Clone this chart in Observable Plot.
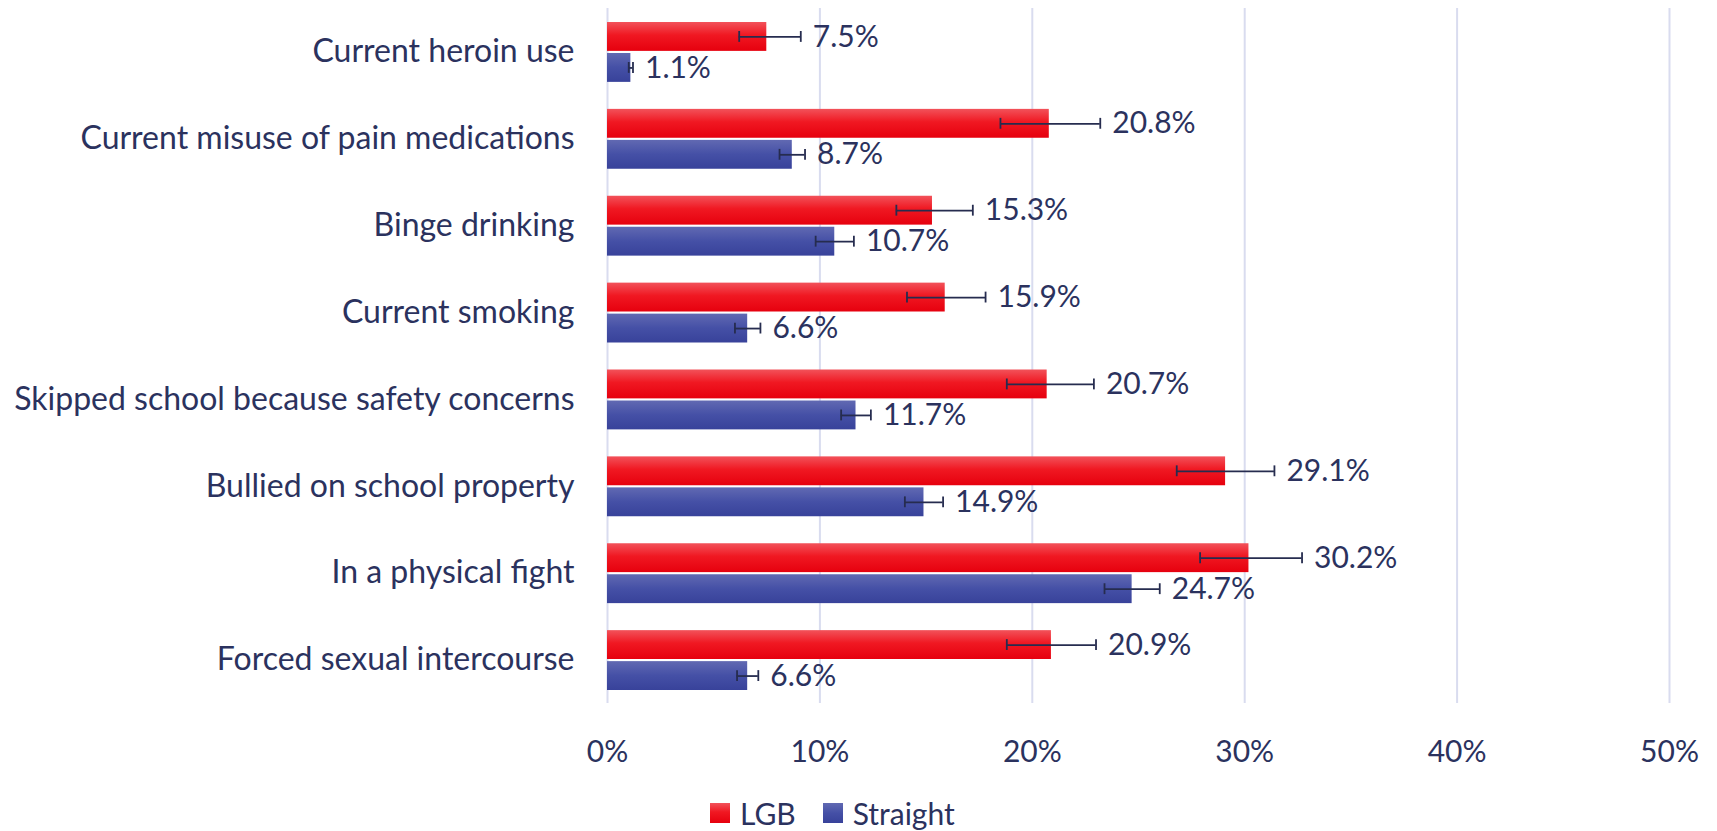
<!DOCTYPE html>
<html>
<head>
<meta charset="utf-8">
<script src="https://cdn.jsdelivr.net/npm/d3@7"></script>
<script src="https://cdn.jsdelivr.net/npm/@observablehq/plot@0.6"></script>
<style>
  body { margin: 0; background: #fff; font-family: Lato, sans-serif; overflow: hidden; }
  #wrap { position: relative; width: 1717px; height: 831px; }
  #legend { position: absolute; top: 801px; left: 710px; display: flex; align-items: center;
            font: 30px Lato, sans-serif; line-height: 24px; color: #2b325e; }
  .sw { width: 20px; height: 20px; display: inline-block; margin-right: 10px; }
  .item { display: flex; align-items: center; margin-right: 27px; }
</style>
</head>
<body>
<div id="wrap"><div id="chart"></div>
<div id="legend">
  <span class="item"><span class="sw" style="background:linear-gradient(#f2525a,#f01822 45%,#e6000e)"></span>LGB</span>
  <span class="item"><span class="sw" style="background:linear-gradient(#6169b2,#4550a6 50%,#38429a)"></span>Straight</span>
</div></div>
<script>
const categories = [
  "Current heroin use",
  "Current misuse of pain medications",
  "Binge drinking",
  "Current smoking",
  "Skipped school because safety concerns",
  "Bullied on school property",
  "In a physical fight",
  "Forced sexual intercourse"
];
const lgb        = [7.5, 20.8, 15.3, 15.9, 20.7, 29.1, 30.2, 20.9];
const lgbLow     = [6.2, 18.5, 13.6, 14.1, 18.8, 26.8, 27.9, 18.8];
const lgbHigh    = [9.1, 23.2, 17.2, 17.8, 22.9, 31.4, 32.7, 23.0];
const straight     = [1.1, 8.7, 10.7, 6.6, 11.7, 14.9, 24.7, 6.6];
const straightLow  = [1.0, 8.1, 9.8, 6.0, 11.0, 14.0, 23.4, 6.1];
const straightHigh = [1.2, 9.3, 11.6, 7.2, 12.4, 15.8, 26.0, 7.1];
const xTicks = [0, 10, 20, 30, 40, 50];

const rowsL = categories.map((c, i) => ({category: c, value: lgb[i], lo: lgbLow[i], hi: lgbHigh[i]}));
const rowsS = categories.map((c, i) => ({category: c, value: straight[i], lo: straightLow[i], hi: straightHigh[i]}));

const ink = "#2b325e";
const errInk = "#262c4f";

const plot = Plot.plot({
  width: 1717,
  height: 780,
  marginTop: 8,
  marginBottom: 77,
  marginLeft: 607,
  marginRight: 48,
  style: {fontFamily: "Lato, sans-serif", color: ink, background: "#fff"},
  x: {domain: [0, 50], ticks: xTicks, tickFormat: d => d + "%", tickSize: 0, tickPadding: 37, label: null, fontSize: 30},
  y: {domain: categories, padding: 0, tickSize: 0, tickPadding: 33, label: null, round: false},
  marks: [
    Plot.ruleX(xTicks, {stroke: "#d9dcef", strokeWidth: 2}),
    Plot.barX(rowsL, {x: "value", y: "category", fill: "url(#gradRed)", insetTop: 14, insetBottom: 44}),
    Plot.barX(rowsS, {x: "value", y: "category", fill: "url(#gradBlue)", insetTop: 45, insetBottom: 13}),
    // error bars
    Plot.ruleY(rowsL, {x1: "lo", x2: "hi", y: "category", dy: -15, stroke: errInk, strokeWidth: 1.8}),
    Plot.ruleY(rowsS, {x1: "lo", x2: "hi", y: "category", dy: 16, stroke: errInk, strokeWidth: 1.8}),
    Plot.tickX(rowsL, {x: "lo", y: "category", stroke: errInk, strokeWidth: 1.8, insetTop: 23, insetBottom: 53}),
    Plot.tickX(rowsL, {x: "hi", y: "category", stroke: errInk, strokeWidth: 1.8, insetTop: 23, insetBottom: 53}),
    Plot.tickX(rowsS, {x: "lo", y: "category", stroke: errInk, strokeWidth: 1.8, insetTop: 54, insetBottom: 22}),
    Plot.tickX(rowsS, {x: "hi", y: "category", stroke: errInk, strokeWidth: 1.8, insetTop: 54, insetBottom: 22}),
    // value labels
    Plot.text(rowsL, {x: "hi", y: "category", text: d => d.value.toFixed(1) + "%", dx: 12, dy: -15,
      textAnchor: "start", fontSize: 30, fill: ink}),
    Plot.text(rowsS, {x: "hi", y: "category", text: d => d.value.toFixed(1) + "%", dx: 12, dy: 16,
      textAnchor: "start", fontSize: 30, fill: ink}),
    Plot.axisY({tickSize: 0, tickPadding: 33, fontSize: 32, label: null}),
    Plot.axisX({ticks: xTicks, tickFormat: d => d + "%", tickSize: 0, tickPadding: 37, fontSize: 30, label: null})
  ]
});

// gradient definitions
const svg = d3.select(plot);
const defs = svg.insert("defs", ":first-child");
const gR = defs.append("linearGradient").attr("id", "gradRed").attr("x1", 0).attr("y1", 0).attr("x2", 0).attr("y2", 1);
gR.append("stop").attr("offset", "0%").attr("stop-color", "#f2525a");
gR.append("stop").attr("offset", "45%").attr("stop-color", "#f01822");
gR.append("stop").attr("offset", "100%").attr("stop-color", "#e6000e");
const gB = defs.append("linearGradient").attr("id", "gradBlue").attr("x1", 0).attr("y1", 0).attr("x2", 0).attr("y2", 1);
gB.append("stop").attr("offset", "0%").attr("stop-color", "#6169b2");
gB.append("stop").attr("offset", "50%").attr("stop-color", "#4550a6");
gB.append("stop").attr("offset", "100%").attr("stop-color", "#38429a");

document.getElementById("chart").appendChild(plot);
</script>
</body>
</html>
